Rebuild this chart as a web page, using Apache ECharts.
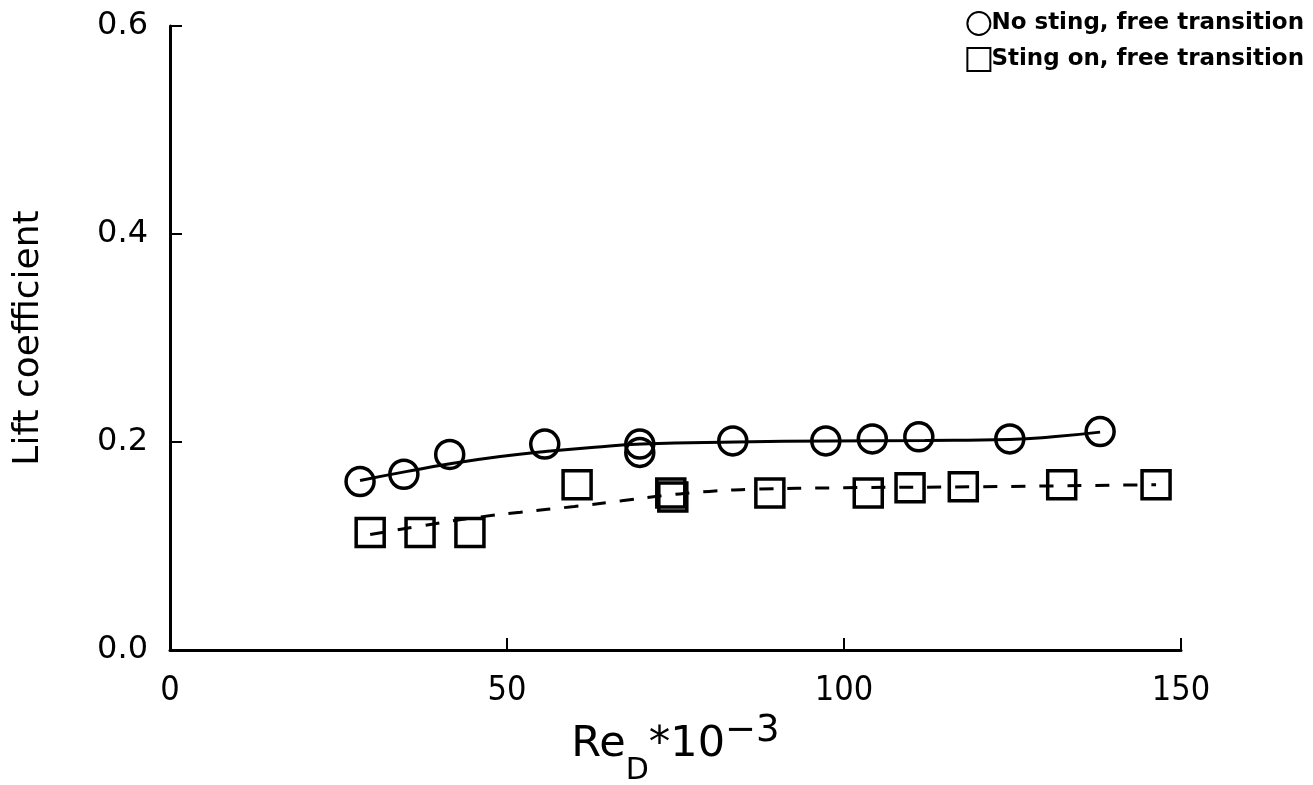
<!DOCTYPE html>
<html>
<head>
<meta charset="utf-8">
<script src="https://cdn.jsdelivr.net/npm/echarts@6/dist/echarts.min.js"></script>
<style>
  html, body { margin: 0; padding: 0; background: #fff; }
  #chart { width: 1313px; height: 785px; }
</style>
</head>
<body>
<div id="chart"></div>
<script>
// measured points
const noStingX = [28.2, 34.7, 41.5, 55.6, 69.7, 69.7, 83.5, 97.3, 104.2, 111.1, 124.6, 138.0]
const noStingY = [0.162, 0.169, 0.188, 0.198, 0.198, 0.190, 0.201, 0.201, 0.203, 0.205, 0.203, 0.210]
const stingX = [29.7, 37.1, 44.5, 60.4, 74.3, 74.6, 89.0, 103.6, 109.8, 117.7, 132.3, 146.3]
const stingY = [0.113, 0.113, 0.113, 0.159, 0.151, 0.147, 0.151, 0.151, 0.156, 0.157, 0.159, 0.159]

// fitted curves
const fitSolidX = [28.2, 35, 42, 49, 56, 63, 70, 84, 98, 112, 124.6, 131, 138]
const fitSolidY = [0.163, 0.1715, 0.1795, 0.186, 0.191, 0.195, 0.198, 0.2, 0.201, 0.2015, 0.2025, 0.2050, 0.2095]
const fitDashX = [29.7, 37, 45, 52, 60, 67, 74, 80, 86, 100, 120, 146.3]
const fitDashY = [0.111, 0.119, 0.127, 0.1325, 0.138, 0.1435, 0.149, 0.1525, 0.1545, 0.156, 0.157, 0.159]

const xTicks = [0, 50, 100, 150]
const yTicks = [0.0, 0.2, 0.4, 0.6]

const zip = (xs, ys) => xs.map((x, i) => [x, ys[i]])

const chart = echarts.init(document.getElementById('chart'))

const nameFont = 'DejaVu Sans'

chart.setOption({
  animation: false,
  backgroundColor: '#fff',
  grid: { left: 170, right: 132, top: 26, bottom: 135, outerBoundsMode: 'none', containLabel: false },
  legend: {
    orient: 'vertical',
    right: 4,
    top: 6,
    itemGap: 11,
    itemWidth: 23,
    itemHeight: 23,
    data: ['No sting, free transition', 'Sting on, free transition'],
    textStyle: { fontFamily: 'DejaVu Sans', fontWeight: 'bold', fontSize: 23, color: '#000', padding: [0, 0, 0, -4] }
  },
  xAxis: {
    type: 'value',
    min: xTicks[0],
    max: xTicks[xTicks.length - 1],
    interval: 50,
    splitLine: { show: false },
    axisLine: { onZero: false, lineStyle: { color: '#000', width: 3 } },
    axisTick: { inside: true, length: 12, lineStyle: { color: '#000', width: 2 } },
    axisLabel: {
      margin: 24,
      fontFamily: '"DejaVu Sans Condensed", "Liberation Sans"',
      fontSize: 34,
      color: '#000'
    },
    name: '{a|Re}{sub|D}{a|*10}{sup|−3}',
    nameLocation: 'middle',
    nameGap: 50,
    nameTextStyle: {
      color: '#000',
      rich: {
        a: { fontFamily: nameFont, fontSize: 43, color: '#000' },
        sub: { fontFamily: nameFont, fontSize: 30, color: '#000', padding: [54, 0, 0, 0] },
        sup: { fontFamily: nameFont, fontSize: 37, color: '#000', padding: [0, 0, 26, 0] }
      }
    }
  },
  yAxis: {
    type: 'value',
    min: yTicks[0],
    max: yTicks[yTicks.length - 1],
    interval: 0.2,
    splitLine: { show: false },
    axisLine: { onZero: false, lineStyle: { color: '#000', width: 3 } },
    axisTick: { inside: true, length: 12, lineStyle: { color: '#000', width: 2 } },
    axisLabel: {
      margin: 22,
      fontFamily: 'DejaVu Sans',
      fontSize: 32,
      color: '#000',
      formatter: v => v.toFixed(1)
    },
    name: 'Lift coefficient',
    nameLocation: 'middle',
    nameGap: 123,
    nameTextStyle: { fontFamily: 'DejaVu Sans', fontSize: 36, color: '#000' }
  },
  series: [
    {
      type: 'line',
      data: zip(fitSolidX, fitSolidY),
      smooth: 0.5,
      showSymbol: false,
      lineStyle: { color: '#000', width: 3 },
      silent: true,
      z: 1
    },
    {
      type: 'line',
      data: zip(fitDashX, fitDashY),
      smooth: 0.5,
      showSymbol: false,
      lineStyle: { color: '#000', width: 3, type: [14, 14] },
      silent: true,
      z: 1
    },
    {
      name: 'No sting, free transition',
      type: 'scatter',
      symbol: 'circle',
      symbolSize: 28,
      data: zip(noStingX, noStingY),
      itemStyle: { color: 'rgba(255,255,255,0)', borderColor: '#000', borderWidth: 3.5, opacity: 1 },
      z: 3
    },
    {
      name: 'Sting on, free transition',
      type: 'scatter',
      symbol: 'rect',
      symbolSize: 28,
      data: zip(stingX, stingY),
      itemStyle: { color: 'rgba(255,255,255,0)', borderColor: '#000', borderWidth: 3.5, opacity: 1 },
      z: 3
    }
  ]
})
</script>
</body>
</html>
